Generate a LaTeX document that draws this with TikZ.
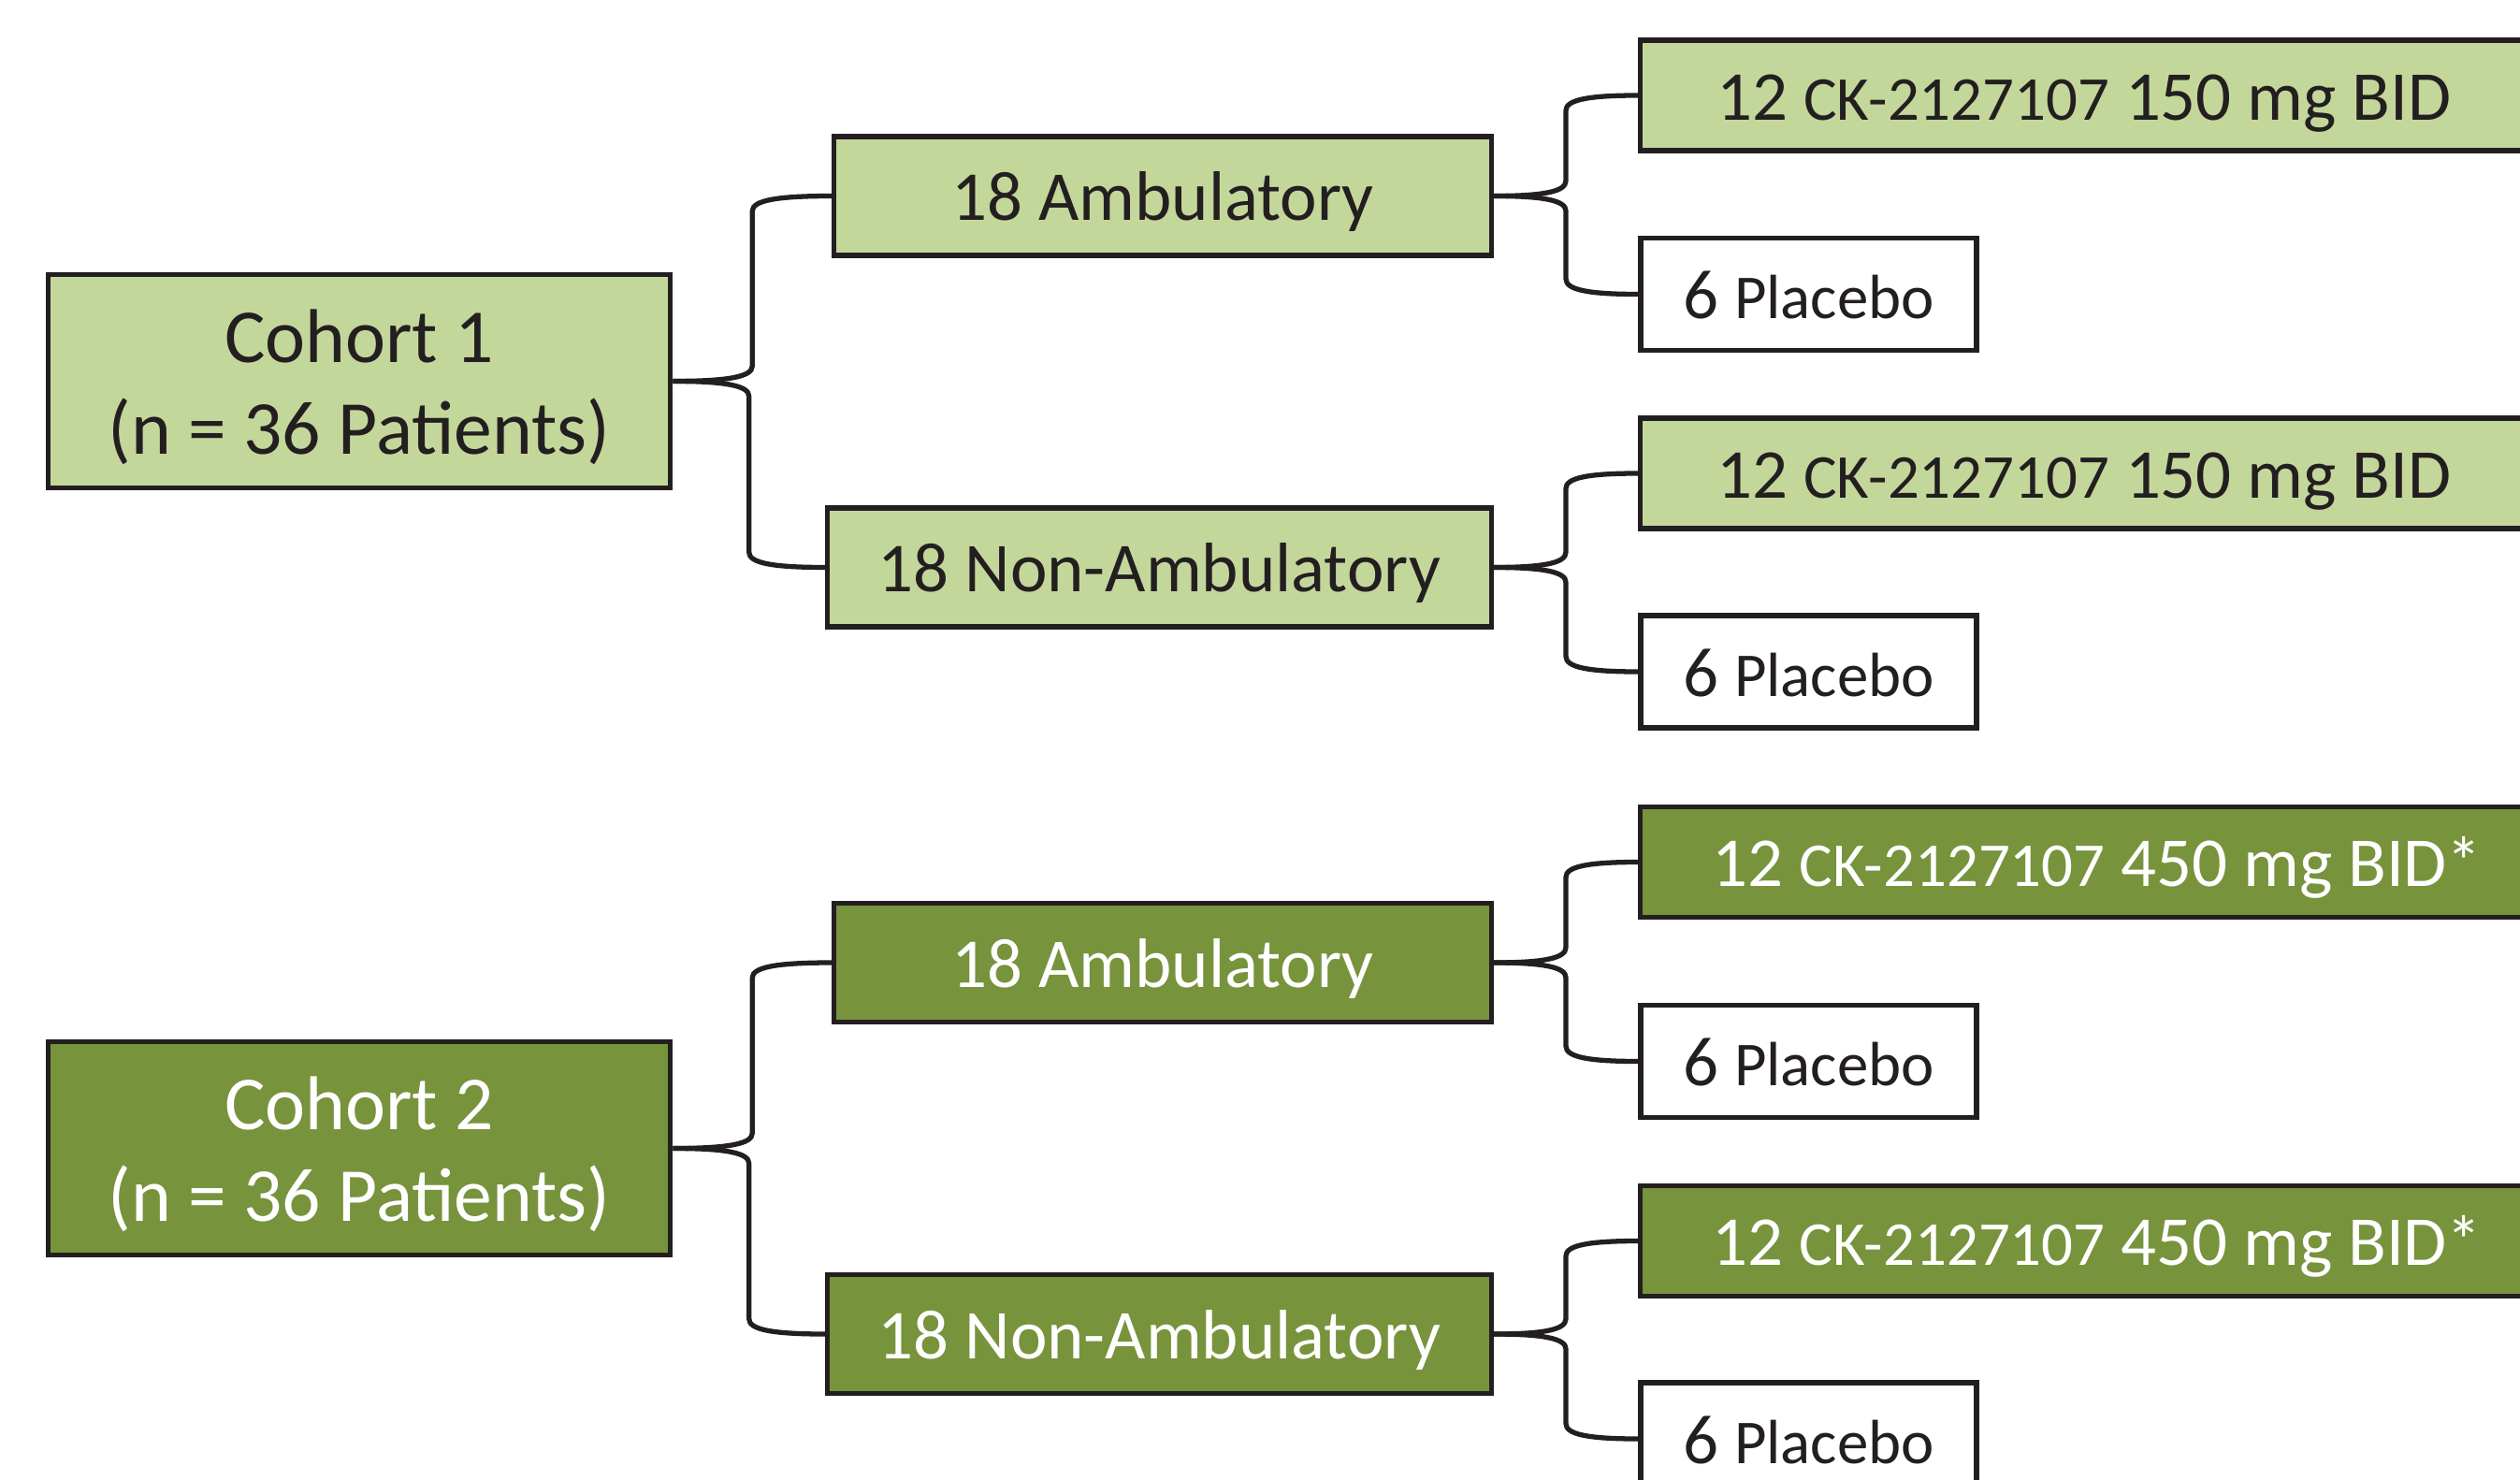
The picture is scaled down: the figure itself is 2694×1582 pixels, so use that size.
\documentclass[tikz,border=0pt]{standalone}
\usepackage{fontspec}
\setmainfont{Carlito}
\usetikzlibrary{calc}
\definecolor{lg}{HTML}{C4D79B}
\definecolor{dg}{HTML}{77933C}
\definecolor{ink}{HTML}{231F20}
\newcommand\sm[1]{{\fontsize{19}{23}\selectfont #1}}
\newcommand\upstrut{\rule{0pt}{19.8pt}}
\begin{document}
\begin{tikzpicture}[x=0.01cm,y=-0.01cm,
  box/.style={draw=ink, line width=1.5pt, inner sep=0pt, align=center, text=ink,
    font=\fontsize{21.3}{26}\selectfont, text height=15pt, text depth=0pt},
  cohort/.style={box, font=\fontsize{23.2}{28}\selectfont, text height=, text depth=,
    minimum width=6.65cm, minimum height=2.28cm},
  light/.style={fill=lg},
  dark/.style={fill=dg, text=white},
  plain/.style={fill=white},
  grp/.style={box, minimum width=7.06cm, minimum height=1.27cm},
  arm/.style={box, minimum width=9.48cm, minimum height=1.18cm},
  pbo/.style={box, plain, minimum width=3.59cm, minimum height=1.2cm},
  link/.style={draw=ink, line width=1.5pt},
  fork/.style={to path={let \p1=(\tikztostart), \p2=(\tikztotarget),
     \n1={0.5*(\x1+\x2)}, \n2={(\y2>\y1) ? 4.6pt : -4.6pt} in
     .. controls ({\x1+0.7*(\n1-\x1)}, \y1) and (\n1, {\y1+0.3*\n2}) ..
     (\n1, {\y1+\n2}) -- (\n1, {\y2-\n2})
     .. controls (\n1, {\y2-0.3*\n2}) and ({\n1+0.3*(\x2-\n1)}, \y2) ..
     (\tikztotarget)}}]
\useasboundingbox (0,0) rectangle (2694,1582);
\clip (0,0) rectangle (2694,1582);
\fill[white] (0,0) rectangle (2694,1582);

% Cohort 1
\node[cohort, light] (c1) at (384,407.5) {\upstrut Cohort 1\\(n = 36 Patients)};
\node[grp, light, minimum width=7.02cm] (a1) at (1243,209.5) {18 Ambulatory};
\node[grp, light, minimum width=7.09cm] (n1) at (1239.5,606.5) {18 Non-Ambulatory};
\node[arm, light] (k1) at (2228,102) {12 \sm{CK-2127107} 150 mg BID};
\node[pbo] (p1) at (1933.5,314.5) {6 \sm{Placebo}};
\node[arm, light] (k2) at (2228,506) {12 \sm{CK-2127107} 150 mg BID};
\node[pbo] (p2) at (1933.5,718) {6 \sm{Placebo}};

% Cohort 2
\node[cohort, dark, text=white] (c2) at (384,1227.5) {\upstrut Cohort 2\\(n = 36 Patients)};
\node[grp, dark, minimum width=7.02cm] (a2) at (1243,1029) {18 Ambulatory};
\node[grp, dark, minimum width=7.09cm] (n2) at (1239.5,1426) {18 Non-Ambulatory};
\node[arm, dark, minimum width=9.76cm] (k3) at (2242,921.5) {12 \sm{CK-2127107} 450 mg BID*};
\node[pbo] (p3) at (1933.5,1134.5) {6 \sm{Placebo}};
\node[arm, dark, minimum width=9.76cm] (k4) at (2242,1326.5) {12 \sm{CK-2127107} 450 mg BID*};
\node[pbo] (p4) at (1933.5,1538) {6 \sm{Placebo}};

% connectors
\draw[link] (c1.east) to[fork] (a1.west);
\draw[link] (c1.east) to[fork] (n1.west);
\draw[link] (a1.east) to[fork] (k1.west);
\draw[link] (a1.east) to[fork] (p1.west);
\draw[link] (n1.east) to[fork] (k2.west);
\draw[link] (n1.east) to[fork] (p2.west);
\draw[link] (c2.east) to[fork] (a2.west);
\draw[link] (c2.east) to[fork] (n2.west);
\draw[link] (a2.east) to[fork] (k3.west);
\draw[link] (a2.east) to[fork] (p3.west);
\draw[link] (n2.east) to[fork] (k4.west);
\draw[link] (n2.east) to[fork] (p4.west);
\end{tikzpicture}
\end{document}
